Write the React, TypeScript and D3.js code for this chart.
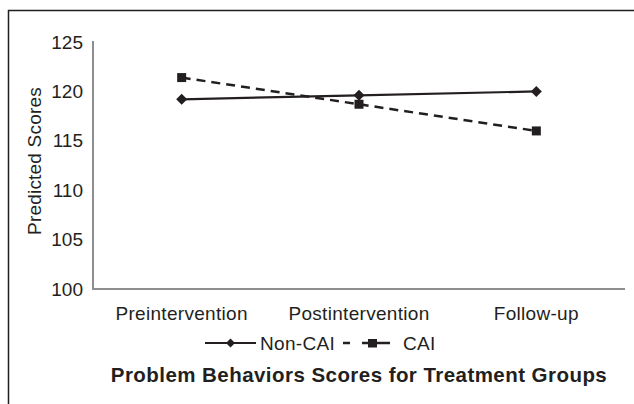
import React from "react";
import * as d3 from "d3";

const categories = ["Preintervention", "Postintervention", "Follow-up"];
const nonCAI = [119.2, 119.6, 120.0];
const cAI = [121.4, 118.7, 116.0];
const yTicks = [100, 105, 110, 115, 120, 125];
const seriesNames = ["Non-CAI", "CAI"];
const chartTitle = "Problem Behaviors Scores for Treatment Groups";
const yTitle = "Predicted Scores";

const W = 634;
const H = 404;
const INK = "#231f20";
const AXIS = "#8e8e90";
const FONT = "'Liberation Sans', Arial, sans-serif";
const FS = 19;

export default function App() {
  const x = d3.scalePoint<string>().domain(categories).range([93, 625]).padding(0.5);
  const y = d3.scaleLinear().domain([100, 125]).range([289, 42]);
  const line = d3
    .line<number>()
    .x((_, i) => x(categories[i]) as number)
    .y((d) => y(d));

  const diamond = (cx: number, cy: number, r: number) =>
    `M${cx},${cy - r}L${cx + r},${cy}L${cx},${cy + r}L${cx - r},${cy}Z`;

  return (
    <svg
      width={W}
      height={H}
      style={{ position: "absolute", left: 0, top: 0, background: "#fff" }}
      fontFamily={FONT}
    >
      <rect x={8.5} y={10.5} width={700} height={500} fill="#fff" stroke={INK} strokeWidth={1.5} />

      {/* axes */}
      <line x1={93} y1={y(125) - 1} x2={93} y2={y(100)} stroke={AXIS} strokeWidth={2} />
      <line x1={92} y1={y(100)} x2={625} y2={y(100)} stroke={AXIS} strokeWidth={2} />

      {yTicks.map((t) => (
        <text key={t} x={83} y={y(t)} dy="0.35em" textAnchor="end" fontSize={FS} fill={INK}>
          {t}
        </text>
      ))}

      {categories.map((c) => (
        <text
          key={c}
          x={x(c) as number}
          y={313}
          dy="0.35em"
          textAnchor="middle"
          fontSize={FS}
          letterSpacing={0.3}
          fill={INK}
        >
          {c}
        </text>
      ))}

      <text
        transform={`translate(34,161) rotate(-90)`}
        textAnchor="middle"
        dy="0.35em"
        fontSize={FS}
        letterSpacing={0.2}
        fill={INK}
      >
        {yTitle}
      </text>

      {/* series */}
      <path d={line(cAI) || ""} fill="none" stroke={INK} strokeWidth={2.5} strokeDasharray="9,6" />
      <path d={line(nonCAI) || ""} fill="none" stroke={INK} strokeWidth={2.2} />
      {nonCAI.map((v, i) => (
        <path key={"d" + i} d={diamond(x(categories[i]) as number, y(v), 5.5)} fill={INK} />
      ))}
      {cAI.map((v, i) => (
        <rect
          key={"s" + i}
          x={(x(categories[i]) as number) - 4.5}
          y={y(v) - 4.5}
          width={9}
          height={9}
          fill={INK}
        />
      ))}

      {/* legend */}
      <line x1={205} y1={343} x2={256} y2={343} stroke={INK} strokeWidth={2} />
      <path d={diamond(230.5, 343, 4.5)} fill={INK} />
      <text x={260} y={343} dy="0.35em" fontSize={FS} letterSpacing={0.3} fill={INK}>
        {seriesNames[0]}
      </text>
      <line x1={343} y1={343} x2={350} y2={343} stroke={INK} strokeWidth={2.5} />
      <line x1={362} y1={343} x2={390} y2={343} stroke={INK} strokeWidth={2.5} />
      <rect x={368} y={339} width={9} height={8.5} fill={INK} />
      <text x={403} y={343} dy="0.35em" fontSize={FS} letterSpacing={0.3} fill={INK}>
        {seriesNames[1]}
      </text>

      <text
        x={359}
        y={375}
        dy="0.35em"
        textAnchor="middle"
        fontSize={20.5}
        letterSpacing={0.45}
        fontWeight="bold"
        fill={INK}
      >
        {chartTitle}
      </text>
    </svg>
  );
}
